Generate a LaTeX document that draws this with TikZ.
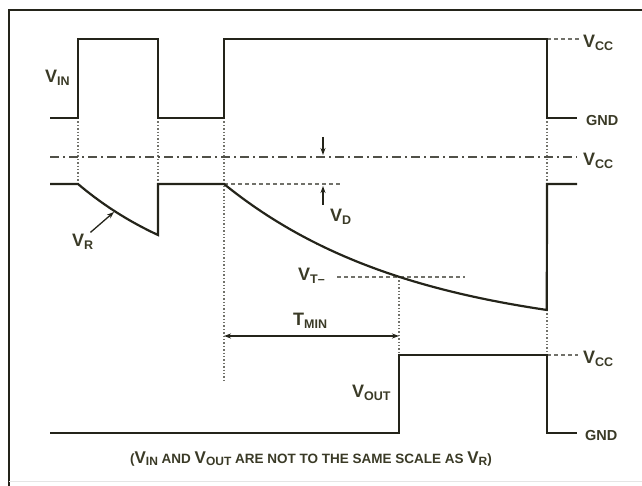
\documentclass[tikz,border=0pt]{standalone}
\usepackage{fontspec}
\setmainfont{Liberation Sans}
\usetikzlibrary{arrows.meta, positioning, calc}
\definecolor{ink}{HTML}{24241A}
\definecolor{txt}{HTML}{3A3A26}
\tikzstyle{wave} = [line width=2.2pt, draw=ink, line join=miter]
\tikzstyle{guide} = [line width=1.3pt, draw=ink!65, dash pattern=on 1.4pt off 2pt]
\tikzstyle{level} = [line width=1.3pt, draw=ink!65, dash pattern=on 4pt off 3pt]
\tikzstyle{ref} = [line width=1.6pt, draw=ink!80, dash pattern=on 9pt off 4pt on 2pt off 4pt]
\tikzstyle{sigtext} = [text=txt, inner sep=0pt, font=\fontsize{18}{20}\selectfont\bfseries]
\tikzstyle{railtext} = [text=txt, inner sep=0pt, font=\fontsize{14.5}{16}\selectfont\bfseries]
\tikzstyle{arrow} = [line width=1.3pt, draw=ink, -{Stealth[length=7pt, width=5pt]}]
\tikzstyle{darrow} = [line width=1.3pt, draw=ink, {Stealth[length=7pt, width=5pt]}-{Stealth[length=7pt, width=5pt]}]
\newcommand{\sig}[2]{#1\raisebox{-3pt}{\fontsize{12.5}{13}\selectfont #2}}
\newcommand{\fsig}[1]{{\fontsize{17}{18}\selectfont V}\raisebox{-2.5pt}{\fontsize{12}{13}\selectfont #1}}

\begin{document}
\begin{tikzpicture}[x=1pt, y=-1pt]
  \useasboundingbox (0,0) rectangle (642,486);
  % frame
  \draw[line width=2.2pt, draw=ink] (9,486) -- (9,10) -- (642,10);
  \draw[line width=1pt, draw=gray!20] (9,481) -- (642,481);

  % guide lines
  \draw[guide] (78,118) -- (78,184);
  \draw[guide] (158,118) -- (158,184);
  \draw[guide] (224,118) -- (224,380);
  \draw[guide] (547,118) -- (547,184);
  \draw[guide] (547,310) -- (547,355);
  \draw[guide] (399,277) -- (399,355);
  \draw[ref] (50,157) -- (577,157);
  \draw[level] (224,184) -- (340,184);
  \draw[level] (337,277) -- (465,277);
  \draw[level] (547,39) -- (579,39);
  \draw[level] (547,355) -- (578,355);

  % V_IN
  \draw[wave] (50,118) -- (78,118) -- (78,39) -- (158,39) -- (158,118) -- (224,118)
    -- (224,39) -- (547,39) -- (547,118) -- (577,118);
  % V_R
  \draw[wave] (50,184) -- (78,184)
    -- plot[domain=0:1, samples=30] ({78+80*\x}, {184+51*(1-exp(-0.6*\x))/(1-exp(-0.6))})
    -- (158,184) -- (224,184)
    -- plot[domain=0:1, samples=60] ({224+323*\x}, {184+126*(1-exp(-1.7*\x))/(1-exp(-1.7))})
    -- (547,184) -- (577,184);
  % V_OUT
  \draw[wave] (50,433) -- (399,433) -- (399,355) -- (547,355) -- (547,433) -- (577,433);

  % labels
  \node[sigtext, anchor=base west] (vin) at (45,83) {\sig{V}{IN}};
  \node[sigtext, anchor=base west] (vr) at (72,247) {\sig{V}{R}};
  \node[sigtext, anchor=base west] (vd) at (330,222) {\sig{V}{D}};
  \node[sigtext, anchor=base west] (vt) at (298,280) {\sig{V}{T–}};
  \node[sigtext, anchor=base west] (tmin) at (293,325) {\sig{T}{MIN}};
  \node[sigtext, anchor=base west] (vout) at (352,397) {\sig{V}{OUT}};
  \node[sigtext, anchor=base west] (vcc1) at (583,48) {\sig{V}{CC}};
  \node[railtext, anchor=base west] (gnd1) at (586,126) {GND};
  \node[sigtext, anchor=base west] (vcc2) at (583,166) {\sig{V}{CC}};
  \node[sigtext, anchor=base west] (vcc3) at (583,363) {\sig{V}{CC}};
  \node[railtext, anchor=base west] (gnd2) at (585,440) {GND};
  \node[text=txt, inner sep=0pt, anchor=base, font=\fontsize{13.5}{15}\selectfont\bfseries] (note) at (311,463)
    {(\fsig{IN} AND \fsig{OUT} ARE NOT TO THE SAME SCALE AS \fsig{R})};

  % arrows
  \coordinate (vrtip) at (114,212);
  \draw[arrow] (vr.north east) ++(-3,-2) -- (vrtip);
  \coordinate (vdtop) at (323,137);
  \coordinate (vdbot) at (323,205);
  \draw[arrow] (vdtop) -- (323,155);
  \draw[arrow] (vdbot) -- (323,186);
  \draw[darrow] (224,336) -- (399,336);
\end{tikzpicture}
\end{document}
